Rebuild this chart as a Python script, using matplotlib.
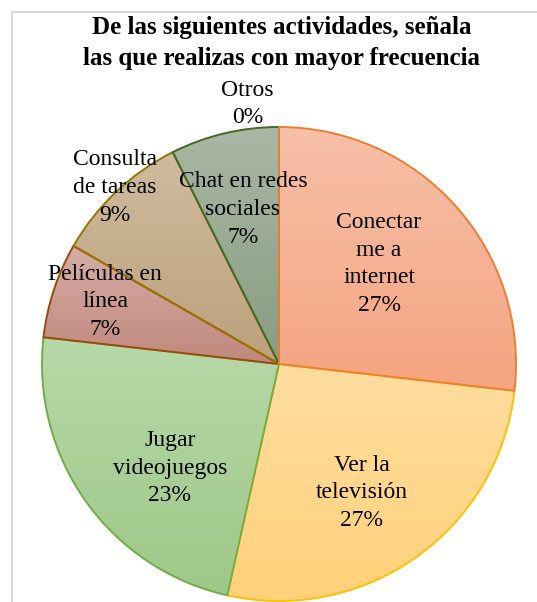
import matplotlib
matplotlib.use("Agg")
import matplotlib.pyplot as plt
import numpy as np
from matplotlib.colors import to_rgb
from matplotlib.lines import Line2D

plt.rcParams['font.family'] = ['Liberation Serif', 'DejaVu Serif']

# datos (porcentaje)
categorias = ["Conectar\nme a\ninternet", "Ver la\ntelevisión", "Jugar\nvideojuegos",
              "Películas en\nlínea", "Consulta\nde tareas", "Chat en redes\nsociales", "Otros"]
valores = [26.8, 26.7, 23.3, 6.5, 9.3, 7.4, 0.0]

# colores: borde, degradado arriba, degradado abajo
bordes = ["#ED7D31", "#FFC000", "#70AD47", "#9E480E", "#997300", "#43682B", "#264478"]
arriba = ["#F7C0A8", "#FFDDA0", "#B7D8A8", "#D6ADA7", "#CFBB9E", "#A9B7A4", "#FFFFFF"]
abajo = ["#F4A480", "#FFD17A", "#9EC888", "#C0887C", "#BCA17C", "#899C80", "#FFFFFF"]

# posiciones de las etiquetas (en radios, centro del pastel = 0,0)
pos_etiquetas = [(0.422, 0.422), (0.350, -0.544), (-0.460, -0.439), (-0.734, 0.262),
                 (-0.692, 0.744), (-0.152, 0.651), (-0.132, 1.097)]

fig = plt.figure(figsize=(5.37, 6.02), dpi=100)
ax = fig.add_axes([0, 0, 1, 1])

wedges, _ = ax.pie(valores, startangle=90, counterclock=False, radius=1, center=(0, 0),
                   wedgeprops=dict(linewidth=1.4))
for w, v, ec, c1, c2 in zip(wedges, valores, bordes, arriba, abajo):
    w.set_facecolor("none")
    w.set_edgecolor(ec)
    w.set_zorder(3)
    if v == 0:
        w.set_linewidth(0)
        continue
    ext = w.get_path().get_extents()
    t = np.linspace(0, 1, 64)[:, None, None]
    grad = (1 - t) * np.array(to_rgb(c1)) + t * np.array(to_rgb(c2))
    im = ax.imshow(grad, extent=(ext.x0, ext.x1, ext.y0, ext.y1), origin="upper",
                   aspect="auto", zorder=2, interpolation="bilinear")
    im.set_clip_path(w)
wedges[0].set_zorder(4)

for cat, v, (x, y) in zip(categorias, valores, pos_etiquetas):
    ax.text(x, y, "%s\n%d%%" % (cat, int(v + 0.5)), ha="center", va="center",
            fontsize=17, color="#000000", linespacing=1.43, zorder=5)

ax.set_xlim(-279 / 237, 258 / 237)
ax.set_ylim(-238 / 237, 364 / 237)
ax.set_aspect("auto")
ax.axis("off")

fig.text(0.524, 1 - 43 / 602, "De las siguientes actividades, señala\nlas que realizas con mayor frecuencia",
         ha="center", va="center", fontsize=18, fontweight="bold", linespacing=1.42)

# marco gris del area del grafico
x0 = 11.5 / 537
y0 = 1 - 11.5 / 602
fig.add_artist(Line2D([x0, x0], [0, y0], color="#D9D9D9", lw=1.5))
fig.add_artist(Line2D([x0, 1], [y0, y0], color="#D9D9D9", lw=1.5))

fig.savefig("out.png", dpi=100)
